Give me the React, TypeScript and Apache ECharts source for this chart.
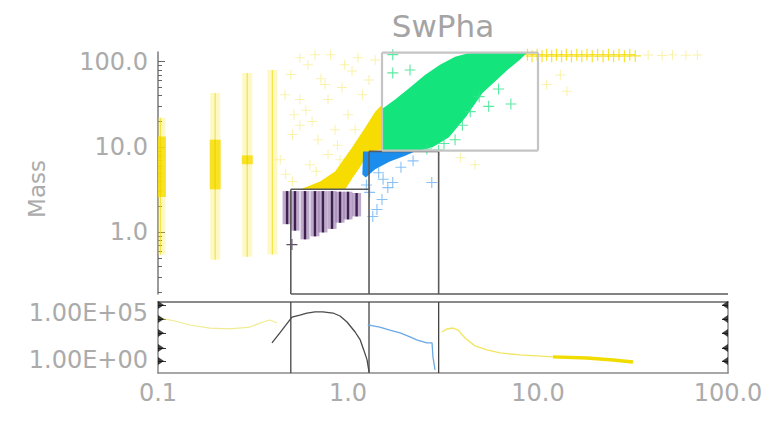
import React, { useEffect, useRef } from "react";
import * as echarts from "echarts";

// ---- axis ticks and labels ----
const ENERGY_LABELS = [0.1, 1, 10, 100];
const MASS_LABELS = [1, 10, 100];
const MASS_MINOR = [0.2, 0.3, 0.4, 0.5, 0.6, 0.7, 0.8, 0.9, 2, 3, 4, 5, 6, 7, 8, 9, 20, 30, 40, 50, 60, 70, 80, 90];
const COUNT_LABELS = [1, 1e5];
const COUNT_MARKS = [7.1e5, 2.3e4, 750, 19, 0.78];

// ---- yellow events ----
const yellowColumnX = [0.103, 0.2, 0.295, 0.4];
const yellowColumnLow = [0.55, 0.48, 0.52, 0.55];
const yellowColumnHigh = [22, 43, 74, 80];
const yellowCoreX = [0.103, 0.2, 0.295];
const yellowCoreLow = [2.6, 3.2, 6.3];
const yellowCoreHigh = [13.3, 12.2, 8.0];
const yellowBandX = [0.558, 0.713, 0.855, 1.05, 1.23, 1.39, 1.51, 1.51, 1.29, 1.16, 1.06, 0.965];
const yellowBandY = [3.18, 3.95, 5.17, 9.86, 16.9, 26, 31.4, 9.35, 8.86, 5.9, 4.4, 3.18];
const yellowSparseX = [0.5, 0.51, 0.51, 0.615, 0.647, 0.63, 0.757, 0.785, 0.785, 0.96, 0.93, 1.0, 1.13, 1.19,
  0.558, 0.695, 0.855, 0.558, 0.466, 0.44, 0.47, 0.558, 0.67, 0.81, 0.908, 1.09, 1.29, 1.39,
  11.1, 14.2, 13.1, 3.9, 4.66, 0.6, 0.72, 0.88, 1.05, 0.52, 0.68];
const yellowSparseY = [71, 14, 3.95, 92, 19.9, 6.2, 54, 36, 8.2, 92, 50, 24, 111, 41,
  18, 12.2, 16, 36, 41, 7.1, 4.8, 111, 121, 121, 7.1, 16, 61, 105,
  54, 45, 70, 7.5, 6.2, 27, 63, 10.5, 78, 24, 5.2];
const yellowStripX = [8.8, 9.3, 9.9, 10.5, 11.1, 11.8, 12.5, 13.3, 14.1, 15, 16, 17, 18.1, 19.3, 20.6, 22, 23.5, 25, 26.7, 28.5, 30.4, 32.5];
const yellowStripY = [121, 116, 121, 116, 121, 116, 121, 116, 121, 116, 121, 116, 121, 116, 121, 116, 121, 116, 121, 116, 121, 117];
const yellowTailX = [38, 45, 51, 60, 69];
const yellowTailY = [120, 118, 121, 119, 120];

// ---- green events ----
const greenEdgeX = [1.51, 1.51, 1.77, 2.12, 2.54, 3.05, 3.66, 4.4, 8.75, 8.0, 6.9, 5.9, 5.1, 4.2, 3.4, 2.8, 2.3];
const greenEdgeY = [8.9, 28, 36, 50, 70, 92, 114, 127, 127, 105, 80, 58, 43, 23, 13, 10, 8.9];
const greenSparseX = [1.72, 2.12, 4.9, 7.2, 4.4, 3.66, 3.2, 5.5, 6.2, 4.0, 1.72, 2.6, 3.0];
const greenSparseY = [74, 80, 39, 32, 26, 12.2, 11, 30, 48, 18, 121, 9.5, 9.2];

// ---- blue events ----
const blueEdgeX = [1.2, 2.25, 2.0, 1.66, 1.39, 1.24, 1.19];
const blueEdgeY = [8.9, 8.9, 7.9, 6.8, 5.5, 4.4, 4.77];
const blueSparseX = [1.53, 1.72, 1.51, 1.42, 1.62, 2.76, 1.35, 1.3, 1.45, 1.9, 2.2, 1.25];
const blueSparseY = [4.2, 3.85, 2.43, 1.86, 3.35, 3.85, 1.54, 2.95, 5.0, 5.8, 6.9, 3.6];

// ---- purple events ----
const purpleColumnX = [0.478, 0.526, 0.594, 0.67, 0.738, 0.824, 0.908, 1.0, 1.11];
const purpleColumnLow = [1.25, 1.05, 0.83, 0.9, 1.0, 1.1, 1.3, 1.42, 1.54];
const purpleColumnHigh = [3.05, 3.05, 3.05, 3.05, 3.05, 3.05, 3.0, 3.0, 2.9];
const purpleStrayX = [0.507];
const purpleStrayY = [0.72];

// ---- selection boxes ----
const boxX1 = [0.5, 0.5, 1.29, 1.29, 3.0, 0.5];
const boxY1 = [0.19, 3.2, 0.19, 8.9, 0.19, 0.19];
const boxX2 = [0.5, 1.29, 1.29, 3.0, 3.0, 100];
const boxY2 = [3.2, 3.2, 8.9, 8.9, 8.9, 0.19];
const greenBoxX = [1.51, 10];
const greenBoxY = [9.1, 128];

// ---- count spectra ----
const dividerX = [0.5, 1.29, 3.0];
const countYellowLowX = [0.1025, 0.123, 0.147, 0.188, 0.239, 0.305, 0.357, 0.388, 0.423];
const countYellowLowY = [2.9e4, 1.4e4, 5.3e3, 2.5e3, 2e3, 3.2e3, 1.1e4, 1.8e4, 8.7e3];
const countDomeX = [0.398, 0.438, 0.507, 0.558, 0.608, 0.67, 0.738, 0.834, 0.908, 0.988, 1.09, 1.16, 1.21, 1.26, 1.29];
const countDomeY = [64, 750, 3.7e4, 6.1e4, 1e5, 1.3e5, 1.3e5, 1e5, 4.8e4, 1.1e4, 950, 134, 11.6, 1, 0.053];
const countBlueX = [1.27, 1.47, 1.66, 1.88, 2.12, 2.3, 2.6, 2.77, 2.8, 2.87];
const countBlueY = [5.3e3, 3.2e3, 1.5e3, 750, 280, 134, 64, 64, 2.1, 0.087];
const countYellowHighX = [3.12, 3.32, 3.57, 3.8, 4.13, 4.66, 5.39, 6.31, 8.04, 12, 18.1, 24.8, 31.6];
const countYellowHighY = [950, 2e3, 2.5e3, 1.5e3, 220, 31, 11.6, 5.6, 3.4, 2.1, 1.6, 1.0, 0.61];
const countYellowTailX = [12, 18.1, 24.8, 31.6];
const countYellowTailY = [2.1, 1.6, 1.0, 0.61];

const CROSS = "path://M4.5,0h1v4.5h4.5v1h-4.5v4.5h-1v-4.5h-4.5v-1h4.5z";
const MARK_RIGHT = "path://M0,0L10,5L0,10Z";
const MARK_LEFT = "path://M10,0L0,5L10,10Z";
const FONT = "DejaVu Sans";
const TEXT_GREY = "#ababab";

const pairs = (xs: number[], ys: number[]) => xs.map((x, i) => [x, ys[i]]);

function crosses(name: string, xs: number[], ys: number[], color: string, size: number, z: number) {
  return {
    type: "scatter", name, xAxisIndex: 0, yAxisIndex: 0,
    symbol: CROSS, symbolSize: size, itemStyle: { color }, data: pairs(xs, ys), z, silent: true,
  };
}

function polygon(name: string, xs: number[], ys: number[], fill: string, z: number) {
  return {
    type: "custom", name, xAxisIndex: 0, yAxisIndex: 0, z, silent: true,
    data: [[xs[0], ys[0]]],
    renderItem: (_p: any, api: any) => ({
      type: "polygon",
      shape: { points: xs.map((x, i) => api.coord([x, ys[i]])) },
      style: { fill },
    }),
  };
}

function streaks(name: string, xs: number[], lows: number[], highs: number[], width: number,
  fill: string, stroke: string, lineWidth: number, z: number) {
  return {
    type: "custom", name, xAxisIndex: 0, yAxisIndex: 0, z, silent: true, clip: true,
    encode: { x: 0, y: [1, 2] },
    data: xs.map((x, i) => [x, lows[i], highs[i]]),
    renderItem: (_p: any, api: any) => {
      const a = api.coord([api.value(0), api.value(1)]);
      const b = api.coord([api.value(0), api.value(2)]);
      return {
        type: "group",
        children: [
          { type: "rect", shape: { x: a[0] - width / 2, y: b[1], width, height: a[1] - b[1] }, style: { fill } },
          { type: "line", shape: { x1: a[0], y1: a[1], x2: a[0], y2: b[1] }, style: { stroke, lineWidth } },
        ],
      };
    },
  };
}

function segments(name: string, x1: number[], y1: number[], x2: number[], y2: number[],
  stroke: string, lineWidth: number, z: number, grid = 0) {
  return {
    type: "custom", name, xAxisIndex: grid === 0 ? 0 : 1, yAxisIndex: grid === 0 ? 0 : 2, z, silent: true,
    data: x1.map((x, i) => [x, y1[i], x2[i], y2[i]]),
    renderItem: (_p: any, api: any) => {
      const a = api.coord([api.value(0), api.value(1)]);
      const b = api.coord([api.value(2), api.value(3)]);
      return { type: "line", shape: { x1: a[0], y1: a[1], x2: b[0], y2: b[1] }, style: { stroke, lineWidth } };
    },
  };
}

function curve(name: string, xs: number[], ys: number[], color: string, width: number, z: number) {
  return {
    type: "line", name, xAxisIndex: 1, yAxisIndex: 2, showSymbol: false, smooth: false, z, silent: true,
    lineStyle: { color, width }, data: pairs(xs, ys),
  };
}

function edgeMarks(name: string, x: number, symbol: string, offset: number) {
  return {
    type: "scatter", name, xAxisIndex: 1, yAxisIndex: 2, clip: false, silent: true, z: 9,
    symbol, symbolSize: [6, 8], symbolOffset: [offset, 0], itemStyle: { color: "#111" },
    data: COUNT_MARKS.map((v) => [x, v]),
  };
}

const fmtOne = (v: number) => Number(v).toFixed(1);
const fmtExp = (v: number) => {
  const e = Math.round(Math.log10(v));
  return "1.00E" + (e >= 0 ? "+" : "-") + String(Math.abs(e)).padStart(2, "0");
};

const labelStyle = { fontFamily: FONT, fontSize: 24, color: TEXT_GREY };

export default function App() {
  const ref = useRef<HTMLDivElement>(null);

  useEffect(() => {
    if (!ref.current) return;
    const chart = echarts.init(ref.current, undefined, { renderer: "svg" });
    const dividerLow = dividerX.map(() => 0.04);
    const dividerHigh = dividerX.map(() => 1.5e6);

    chart.setOption({
      animation: false,
      backgroundColor: "#ffffff",
      grid: [
        { left: 158, top: 52, width: 570, height: 242 },
        { left: 158, top: 302, width: 570, height: 71 },
      ],
      xAxis: [
        { type: "log", gridIndex: 0, min: 0.1, max: 100, show: false },
        {
          type: "log", gridIndex: 1, min: 0.1, max: 100, position: "bottom",
          axisLine: { show: true, lineStyle: { color: "#8a8a8a", width: 1.5 } },
          axisTick: { show: false },
          splitLine: { show: false },
          axisLabel: { ...labelStyle, margin: 8, customValues: ENERGY_LABELS, formatter: fmtOne },
        },
        {
          type: "log", gridIndex: 1, min: 0.1, max: 100, position: "top",
          axisLine: { show: true, lineStyle: { color: "#8a8a8a", width: 2 } },
          axisTick: { show: false }, axisLabel: { show: false }, splitLine: { show: false },
        },
      ],
      yAxis: [
        {
          type: "log", gridIndex: 0, min: 0.19, max: 130, position: "left",
          splitLine: { show: false },
          axisLine: { show: true, lineStyle: { color: "#7a7a7a", width: 1.5 } },
          axisTick: { show: true, inside: true, length: 7, customValues: MASS_LABELS, lineStyle: { color: "#666" } },
          axisLabel: { ...labelStyle, margin: 10, customValues: MASS_LABELS, formatter: fmtOne },
        },
        {
          type: "log", gridIndex: 0, min: 0.19, max: 130, position: "left", offset: 0,
          splitLine: { show: false }, axisLine: { show: false },
          axisTick: { show: true, inside: true, length: 4, customValues: MASS_MINOR, lineStyle: { color: "#666" } },
          axisLabel: { show: false },
        },
        {
          type: "log", gridIndex: 1, min: 0.04, max: 1.5e6, position: "left",
          splitLine: { show: false },
          axisLine: { show: true, lineStyle: { color: "#8a8a8a", width: 1.5 } },
          axisTick: { show: true, inside: true, length: 8, customValues: COUNT_MARKS, lineStyle: { color: "#333" } },
          axisLabel: { ...labelStyle, margin: 10, customValues: COUNT_LABELS, formatter: fmtExp },
        },
        {
          type: "log", gridIndex: 1, min: 0.04, max: 1.5e6, position: "right",
          splitLine: { show: false },
          axisLine: { show: true, lineStyle: { color: "#8a8a8a", width: 1.5 } },
          axisTick: { show: true, inside: true, length: 6, customValues: COUNT_MARKS, lineStyle: { color: "#333" } },
          axisLabel: { show: false },
        },
      ],
      graphic: [
        {
          type: "text", x: 443, y: 26,
          style: { text: "SwPha", fontFamily: FONT, fontSize: 31, fill: "#a4a4a4", align: "center", verticalAlign: "middle" },
        },
        {
          type: "text", x: 37, y: 189, rotation: Math.PI / 2,
          style: { text: "Mass", fontFamily: FONT, fontSize: 23, fill: TEXT_GREY, align: "center", verticalAlign: "middle" },
        },
      ],
      series: [
        streaks("yellow columns", yellowColumnX, yellowColumnLow, yellowColumnHigh, 10,
          "rgba(248,232,60,0.3)", "rgba(240,218,20,0.7)", 1.2, 1),
        streaks("yellow cores", yellowCoreX, yellowCoreLow, yellowCoreHigh, 11,
          "rgba(246,222,10,0.85)", "#f2d800", 1.5, 2),
        crosses("yellow sparse", yellowSparseX, yellowSparseY, "rgba(243,222,40,0.5)", 10, 2),
        crosses("yellow tail", yellowTailX, yellowTailY, "rgba(243,222,40,0.5)", 10, 2),
        crosses("yellow strip", yellowStripX, yellowStripY, "#f4dc00", 12, 3),
        polygon("yellow band", yellowBandX, yellowBandY, "#f6dc00", 3),
        polygon("green band", greenEdgeX, greenEdgeY, "#14e47c", 4),
        crosses("green sparse", greenSparseX, greenSparseY, "#2fe48a", 11, 4),
        polygon("blue band", blueEdgeX, blueEdgeY, "#1b8ded", 5),
        crosses("blue sparse", blueSparseX, blueSparseY, "#6cb2f2", 11, 5),
        streaks("purple columns", purpleColumnX, purpleColumnLow, purpleColumnHigh, 9,
          "rgba(125,85,150,0.5)", "#3e2150", 2.4, 6),
        crosses("purple stray", purpleStrayX, purpleStrayY, "#3b2448", 11, 6),
        segments("boxes", boxX1, boxY1, boxX2, boxY2, "#5a5a5a", 1.6, 8),
        segments("green box", [greenBoxX[0], greenBoxX[0], greenBoxX[1], greenBoxX[0]],
          [greenBoxY[0], greenBoxY[1], greenBoxY[0], greenBoxY[0]],
          [greenBoxX[0], greenBoxX[1], greenBoxX[1], greenBoxX[1]],
          [greenBoxY[1], greenBoxY[1], greenBoxY[1], greenBoxY[0]], "#c4c4c4", 2.2, 8),
        segments("dividers", dividerX, dividerLow, dividerX, dividerHigh, "#444", 1.3, 3, 1),
        curve("yellow low", countYellowLowX, countYellowLowY, "rgba(236,228,110,0.75)", 1.2, 4),
        curve("dark dome", countDomeX, countDomeY, "#4a4a4a", 1.3, 4),
        curve("blue", countBlueX, countBlueY, "#6aa8e6", 1.3, 4),
        curve("yellow high", countYellowHighX, countYellowHighY, "rgba(240,225,70,0.85)", 1.4, 4),
        curve("yellow high tail", countYellowTailX, countYellowTailY, "#f1dc00", 3.5, 5),
        edgeMarks("left marks", 0.1, MARK_RIGHT, 3),
        edgeMarks("right marks", 100, MARK_LEFT, -3),
      ],
    });
    return () => chart.dispose();
  }, []);

  return (
    <div
      ref={ref}
      style={{ position: "fixed", left: 0, top: 0, width: 776, height: 421, background: "#fff" }}
    />
  );
}
